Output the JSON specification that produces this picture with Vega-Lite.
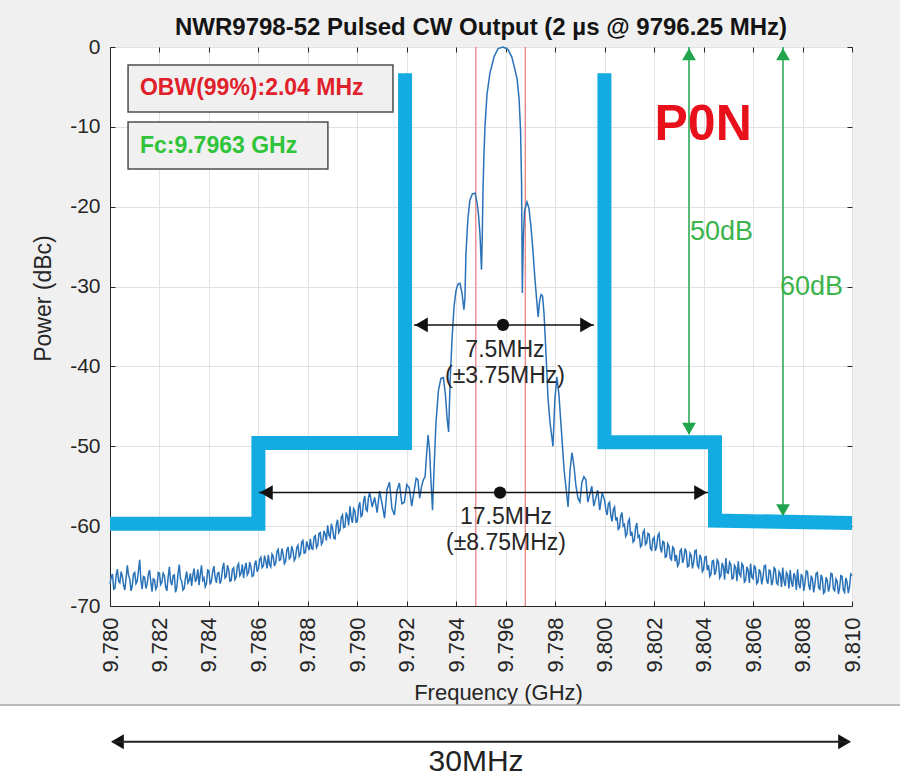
{
  "$schema": "https://vega.github.io/schema/vega-lite/v6.json",
  "autosize": {"type": "none"},
  "width": 742,
  "height": 559,
  "padding": {"left": 110, "top": 47, "right": 48, "bottom": 176},
  "background": "#f0f0f0",
  "title": {"text": "NWR9798-52 Pulsed CW Output (2 µs @ 9796.25 MHz)", "fontSize": 24, "fontWeight": "bold", "color": "#141414", "anchor": "middle", "frame": "group", "offset": -4, "font": "Liberation Sans"},
  "config": {
    "view": {"fill": "white", "stroke": "#262626", "strokeWidth": 1},
    "font": "Liberation Sans",
    "axis": {"domainColor": "#262626", "tickColor": "#262626", "gridColor": "#e2e2e2", "labelColor": "#262626", "titleColor": "#262626", "labelFontSize": 21, "titleFontSize": 22, "titleFontWeight": "normal", "labelFont": "Liberation Sans", "titleFont": "Liberation Sans"}
  },
  "resolve": {"axis": {"x": "independent", "y": "independent"}},
  "datasets": {
    "spec": [
      {"f":9.78000,"p":-67.2},{"f":9.78005,"p":-66.4},{"f":9.78010,"p":-66.0},{"f":9.78015,"p":-67.9},{"f":9.78020,"p":-67.8},{"f":9.78025,"p":-66.1},{"f":9.78030,"p":-65.4},{"f":9.78035,"p":-66.9},{"f":9.78040,"p":-67.1},{"f":9.78045,"p":-65.7},
      {"f":9.78050,"p":-66.3},{"f":9.78055,"p":-67.4},{"f":9.78060,"p":-68.0},{"f":9.78065,"p":-66.5},{"f":9.78070,"p":-64.9},{"f":9.78075,"p":-66.2},{"f":9.78080,"p":-66.6},{"f":9.78085,"p":-68.1},{"f":9.78090,"p":-67.5},{"f":9.78095,"p":-66.0},
      {"f":9.78100,"p":-65.8},{"f":9.78105,"p":-67.2},{"f":9.78110,"p":-66.9},{"f":9.78115,"p":-65.6},{"f":9.78120,"p":-64.2},{"f":9.78125,"p":-66.8},{"f":9.78130,"p":-67.9},{"f":9.78135,"p":-66.3},{"f":9.78140,"p":-66.4},{"f":9.78145,"p":-67.8},
      {"f":9.78150,"p":-67.3},{"f":9.78155,"p":-66.0},{"f":9.78160,"p":-65.5},{"f":9.78165,"p":-67.0},{"f":9.78170,"p":-68.2},{"f":9.78175,"p":-66.6},{"f":9.78180,"p":-66.7},{"f":9.78185,"p":-67.9},{"f":9.78190,"p":-67.6},{"f":9.78195,"p":-65.8},
      {"f":9.78200,"p":-65.9},{"f":9.78205,"p":-67.3},{"f":9.78210,"p":-67.0},{"f":9.78215,"p":-65.9},{"f":9.78220,"p":-66.2},{"f":9.78225,"p":-67.6},{"f":9.78230,"p":-68.1},{"f":9.78235,"p":-66.4},{"f":9.78240,"p":-65.1},{"f":9.78245,"p":-66.9},
      {"f":9.78250,"p":-67.4},{"f":9.78255,"p":-66.2},{"f":9.78260,"p":-66.1},{"f":9.78265,"p":-68.3},{"f":9.78270,"p":-67.7},{"f":9.78275,"p":-66.0},{"f":9.78280,"p":-64.8},{"f":9.78285,"p":-66.6},{"f":9.78290,"p":-66.9},{"f":9.78295,"p":-68.0},
      {"f":9.78300,"p":-67.8},{"f":9.78305,"p":-66.5},{"f":9.78310,"p":-65.7},{"f":9.78315,"p":-67.1},{"f":9.78320,"p":-66.8},{"f":9.78325,"p":-65.9},{"f":9.78330,"p":-67.5},{"f":9.78335,"p":-66.1},{"f":9.78340,"p":-65.3},{"f":9.78345,"p":-67.0},
      {"f":9.78350,"p":-66.6},{"f":9.78355,"p":-65.4},{"f":9.78360,"p":-67.4},{"f":9.78365,"p":-66.0},{"f":9.78370,"p":-64.9},{"f":9.78375,"p":-66.8},{"f":9.78380,"p":-66.5},{"f":9.78385,"p":-67.6},{"f":9.78390,"p":-67.2},{"f":9.78395,"p":-65.5},
      {"f":9.78400,"p":-65.6},{"f":9.78405,"p":-67.3},{"f":9.78410,"p":-66.9},{"f":9.78415,"p":-65.7},{"f":9.78420,"p":-65.0},{"f":9.78425,"p":-66.4},{"f":9.78430,"p":-67.1},{"f":9.78435,"p":-65.9},{"f":9.78440,"p":-65.8},{"f":9.78445,"p":-67.2},
      {"f":9.78450,"p":-66.7},{"f":9.78455,"p":-65.3},{"f":9.78460,"p":-64.6},{"f":9.78465,"p":-66.5},{"f":9.78470,"p":-66.3},{"f":9.78475,"p":-64.9},{"f":9.78480,"p":-65.5},{"f":9.78485,"p":-66.9},{"f":9.78490,"p":-66.8},{"f":9.78495,"p":-65.4},
      {"f":9.78500,"p":-65.2},{"f":9.78505,"p":-66.7},{"f":9.78510,"p":-66.4},{"f":9.78515,"p":-65.0},{"f":9.78520,"p":-64.7},{"f":9.78525,"p":-66.2},{"f":9.78530,"p":-65.9},{"f":9.78535,"p":-64.8},{"f":9.78540,"p":-66.5},{"f":9.78545,"p":-65.3},
      {"f":9.78550,"p":-64.6},{"f":9.78555,"p":-66.1},{"f":9.78560,"p":-65.8},{"f":9.78565,"p":-64.5},{"f":9.78570,"p":-65.1},{"f":9.78575,"p":-66.3},{"f":9.78580,"p":-66.2},{"f":9.78585,"p":-64.8},{"f":9.78590,"p":-64.3},{"f":9.78595,"p":-65.7},
      {"f":9.78600,"p":-65.3},{"f":9.78605,"p":-64.2},{"f":9.78610,"p":-63.9},{"f":9.78615,"p":-65.2},{"f":9.78620,"p":-65.0},{"f":9.78625,"p":-63.7},{"f":9.78630,"p":-64.4},{"f":9.78635,"p":-65.3},{"f":9.78640,"p":-63.6},{"f":9.78645,"p":-64.8},
      {"f":9.78650,"p":-65.1},{"f":9.78655,"p":-63.5},{"f":9.78660,"p":-63.8},{"f":9.78665,"p":-65.0},{"f":9.78670,"p":-64.6},{"f":9.78675,"p":-63.2},{"f":9.78680,"p":-62.9},{"f":9.78685,"p":-64.3},{"f":9.78690,"p":-64.2},{"f":9.78695,"p":-62.8},
      {"f":9.78700,"p":-63.5},{"f":9.78705,"p":-64.7},{"f":9.78710,"p":-64.4},{"f":9.78715,"p":-63.0},{"f":9.78720,"p":-62.6},{"f":9.78725,"p":-64.1},{"f":9.78730,"p":-63.9},{"f":9.78735,"p":-62.5},{"f":9.78740,"p":-63.1},{"f":9.78745,"p":-64.3},
      {"f":9.78750,"p":-64.0},{"f":9.78755,"p":-62.7},{"f":9.78760,"p":-62.4},{"f":9.78765,"p":-63.8},{"f":9.78770,"p":-63.5},{"f":9.78775,"p":-62.0},{"f":9.78780,"p":-61.8},{"f":9.78785,"p":-63.4},{"f":9.78790,"p":-63.3},{"f":9.78795,"p":-61.9},
      {"f":9.78800,"p":-62.5},{"f":9.78805,"p":-63.0},{"f":9.78810,"p":-61.6},{"f":9.78815,"p":-62.8},{"f":9.78820,"p":-62.9},{"f":9.78825,"p":-61.4},{"f":9.78830,"p":-61.2},{"f":9.78835,"p":-62.7},{"f":9.78840,"p":-62.4},{"f":9.78845,"p":-60.9},
      {"f":9.78850,"p":-60.8},{"f":9.78855,"p":-62.3},{"f":9.78860,"p":-62.0},{"f":9.78865,"p":-60.6},{"f":9.78870,"p":-61.0},{"f":9.78875,"p":-61.8},{"f":9.78880,"p":-59.9},{"f":9.78885,"p":-61.1},{"f":9.78890,"p":-61.4},{"f":9.78895,"p":-59.7},
      {"f":9.78900,"p":-60.3},{"f":9.78905,"p":-61.5},{"f":9.78910,"p":-61.6},{"f":9.78915,"p":-59.8},{"f":9.78920,"p":-59.2},{"f":9.78925,"p":-60.8},{"f":9.78930,"p":-60.5},{"f":9.78935,"p":-58.9},{"f":9.78940,"p":-58.6},{"f":9.78945,"p":-60.2},
      {"f":9.78950,"p":-60.1},{"f":9.78955,"p":-58.3},{"f":9.78960,"p":-58.8},{"f":9.78965,"p":-59.9},{"f":9.78970,"p":-57.5},{"f":9.78975,"p":-58.9},{"f":9.78980,"p":-59.6},{"f":9.78985,"p":-57.8},{"f":9.78990,"p":-58.1},{"f":9.78995,"p":-59.5},
      {"f":9.79000,"p":-59.4},{"f":9.79005,"p":-57.6},{"f":9.79010,"p":-57.0},{"f":9.79015,"p":-58.8},{"f":9.79020,"p":-58.6},{"f":9.79025,"p":-56.9},{"f":9.79030,"p":-56.2},{"f":9.79035,"p":-57.9},{"f":9.79040,"p":-58.1},{"f":9.79045,"p":-56.4},
      {"f":9.79050,"p":-55.8},{"f":9.7906,"p":-57.6},{"f":9.7907,"p":-56.4},{"f":9.7908,"p":-58.3},{"f":9.7909,"p":-55.6},
      {"f":9.7910,"p":-57.2},{"f":9.7911,"p":-59.0},{"f":9.7912,"p":-55.4},{"f":9.7913,"p":-54.5},{"f":9.7914,"p":-57.8},{"f":9.7915,"p":-58.6},{"f":9.7916,"p":-55.6},{"f":9.7917,"p":-54.6},{"f":9.7918,"p":-57.2},{"f":9.7919,"p":-57.0},
      {"f":9.7920,"p":-54.8},{"f":9.7921,"p":-55.2},{"f":9.7922,"p":-57.5},
      {"f":9.79230,"p":-55.5},{"f":9.79238,"p":-54.0},{"f":9.79245,"p":-54.2},{"f":9.79252,"p":-56.5},{"f":9.79260,"p":-55.0},{"f":9.79267,"p":-54.2},{"f":9.79274,"p":-53.8},{"f":9.79280,"p":-51.0},{"f":9.79286,"p":-48.6},{"f":9.79292,"p":-50.5},
      {"f":9.79298,"p":-54.5},{"f":9.79304,"p":-58.0},{"f":9.79310,"p":-53.0},{"f":9.79318,"p":-47.0},{"f":9.79328,"p":-43.0},{"f":9.79338,"p":-41.5},{"f":9.79348,"p":-41.4},{"f":9.79356,"p":-43.5},{"f":9.79363,"p":-46.5},{"f":9.79369,"p":-48.2},
      {"f":9.79375,"p":-42.0},{"f":9.79383,"p":-36.5},{"f":9.79391,"p":-32.5},{"f":9.79399,"p":-30.5},{"f":9.79407,"p":-29.7},{"f":9.79415,"p":-29.6},{"f":9.79423,"p":-30.8},{"f":9.79431,"p":-32.9},{"f":9.79435,"p":-31.5},{"f":9.79439,"p":-26.0},
      {"f":9.79447,"p":-21.5},{"f":9.79455,"p":-19.2},{"f":9.79465,"p":-18.4},{"f":9.79476,"p":-18.3},{"f":9.79484,"p":-19.5},{"f":9.79490,"p":-21.0},{"f":9.79496,"p":-23.5},{"f":9.79502,"p":-27.9},{"f":9.79505,"p":-24.0},{"f":9.79508,"p":-18.0},
      {"f":9.79512,"p":-13.5},{"f":9.79516,"p":-10.0},{"f":9.79524,"p":-6.0},{"f":9.79536,"p":-3.3},{"f":9.79553,"p":-1.2},{"f":9.79569,"p":-0.2},{"f":9.79589,"p":0},{"f":9.79609,"p":-0.3},{"f":9.79625,"p":-1.3},{"f":9.79637,"p":-2.8},
      {"f":9.79646,"p":-4.0},{"f":9.79654,"p":-6.5},{"f":9.79660,"p":-10.5},{"f":9.79664,"p":-17.0},{"f":9.79667,"p":-30.8},{"f":9.79671,"p":-24.0},{"f":9.79676,"p":-20.5},{"f":9.79686,"p":-19.4},{"f":9.79694,"p":-20.2},{"f":9.79702,"p":-22.5},
      {"f":9.79710,"p":-25.5},{"f":9.79718,"p":-29.0},{"f":9.79726,"p":-32.0},{"f":9.79731,"p":-33.8},{"f":9.79737,"p":-31.8},{"f":9.79743,"p":-31.0},{"f":9.79749,"p":-31.2},{"f":9.79755,"p":-33.5},{"f":9.79763,"p":-38.5},{"f":9.79771,"p":-44.0},
      {"f":9.79779,"p":-47.0},{"f":9.79791,"p":-50.0},{"f":9.79799,"p":-44.0},{"f":9.79807,"p":-41.3},{"f":9.79815,"p":-43.5},{"f":9.79825,"p":-48.0},{"f":9.79836,"p":-53.0},{"f":9.79852,"p":-57.6},{"f":9.79860,"p":-53.0},{"f":9.79868,"p":-50.8},
      {"f":9.79876,"p":-52.5},{"f":9.79884,"p":-55.0},{"f":9.79892,"p":-56.5},{"f":9.79900,"p":-57.0},{"f":9.79908,"p":-54.5},{"f":9.79916,"p":-53.8},{"f":9.79924,"p":-54.2},{"f":9.79932,"p":-57.0},{"f":9.79940,"p":-56.0},{"f":9.79948,"p":-55.0},
      {"f":9.79956,"p":-57.5},{"f":9.79964,"p":-56.5},{"f":9.79972,"p":-55.5},{"f":9.79980,"p":-58.0},{"f":9.79990,"p":-55.8},
      {"f":9.80000,"p":-56.8},{"f":9.80005,"p":-58.0},{"f":9.80010,"p":-58.6},{"f":9.80015,"p":-57.2},{"f":9.80020,"p":-57.0},{"f":9.80025,"p":-58.7},{"f":9.80030,"p":-59.4},{"f":9.80035,"p":-57.9},{"f":9.80040,"p":-57.6},{"f":9.80045,"p":-59.3},
      {"f":9.80050,"p":-58.9},{"f":9.80055,"p":-60.4},{"f":9.80060,"p":-60.2},{"f":9.80065,"p":-58.7},{"f":9.80070,"p":-58.3},{"f":9.80075,"p":-60.0},{"f":9.80080,"p":-59.8},{"f":9.80085,"p":-61.3},{"f":9.80090,"p":-61.0},{"f":9.80095,"p":-59.4},
      {"f":9.80100,"p":-59.1},{"f":9.80105,"p":-61.2},{"f":9.80110,"p":-60.7},{"f":9.80115,"p":-62.0},{"f":9.80120,"p":-61.8},{"f":9.80125,"p":-60.2},{"f":9.80130,"p":-59.6},{"f":9.80135,"p":-61.4},{"f":9.80140,"p":-61.2},{"f":9.80145,"p":-62.6},
      {"f":9.80150,"p":-62.4},{"f":9.80155,"p":-60.8},{"f":9.80160,"p":-60.5},{"f":9.80165,"p":-62.3},{"f":9.80170,"p":-62.1},{"f":9.80175,"p":-60.9},{"f":9.80180,"p":-61.0},{"f":9.80185,"p":-62.8},{"f":9.80190,"p":-63.0},{"f":9.80195,"p":-61.6},
      {"f":9.80200,"p":-61.4},{"f":9.80205,"p":-63.1},{"f":9.80210,"p":-62.6},{"f":9.80215,"p":-61.2},{"f":9.80220,"p":-60.9},{"f":9.80225,"p":-62.7},{"f":9.80230,"p":-63.3},{"f":9.80235,"p":-61.9},{"f":9.80240,"p":-62.0},{"f":9.80245,"p":-63.9},
      {"f":9.80250,"p":-63.8},{"f":9.80255,"p":-62.2},{"f":9.80260,"p":-62.5},{"f":9.80265,"p":-64.0},{"f":9.80270,"p":-64.2},{"f":9.80275,"p":-62.6},{"f":9.80280,"p":-62.8},{"f":9.80285,"p":-64.4},{"f":9.80290,"p":-63.6},{"f":9.80295,"p":-65.0},
      {"f":9.80300,"p":-64.7},{"f":9.80305,"p":-63.1},{"f":9.80310,"p":-62.9},{"f":9.80315,"p":-64.6},{"f":9.80320,"p":-64.1},{"f":9.80325,"p":-62.8},{"f":9.80330,"p":-63.2},{"f":9.80335,"p":-65.1},{"f":9.80340,"p":-65.0},{"f":9.80345,"p":-63.4},
      {"f":9.80350,"p":-63.7},{"f":9.80355,"p":-65.3},{"f":9.80360,"p":-64.5},{"f":9.80365,"p":-63.1},{"f":9.80370,"p":-63.0},{"f":9.80375,"p":-64.9},{"f":9.80380,"p":-65.2},{"f":9.80385,"p":-63.6},{"f":9.80390,"p":-64.0},{"f":9.80395,"p":-65.7},
      {"f":9.80400,"p":-65.4},{"f":9.80405,"p":-63.9},{"f":9.80410,"p":-63.8},{"f":9.80415,"p":-65.5},{"f":9.80420,"p":-64.9},{"f":9.80425,"p":-66.3},{"f":9.80430,"p":-66.0},{"f":9.80435,"p":-64.4},{"f":9.80440,"p":-64.3},{"f":9.80445,"p":-66.1},
      {"f":9.80450,"p":-65.6},{"f":9.80455,"p":-64.2},{"f":9.80460,"p":-64.5},{"f":9.80465,"p":-66.5},{"f":9.80470,"p":-66.2},{"f":9.80475,"p":-64.6},{"f":9.80480,"p":-65.1},{"f":9.80485,"p":-66.7},{"f":9.80490,"p":-64.0},{"f":9.80495,"p":-65.8},
      {"f":9.80500,"p":-65.9},{"f":9.80505,"p":-64.5},{"f":9.80510,"p":-64.8},{"f":9.80515,"p":-66.6},{"f":9.80520,"p":-66.5},{"f":9.80525,"p":-64.9},{"f":9.80530,"p":-65.2},{"f":9.80535,"p":-66.9},{"f":9.80540,"p":-64.4},{"f":9.80545,"p":-66.0},
      {"f":9.80550,"p":-66.3},{"f":9.80555,"p":-64.7},{"f":9.80560,"p":-65.0},{"f":9.80565,"p":-67.0},{"f":9.80570,"p":-66.8},{"f":9.80575,"p":-65.1},{"f":9.80580,"p":-65.5},{"f":9.80585,"p":-67.1},{"f":9.80590,"p":-64.7},{"f":9.80595,"p":-66.4},
      {"f":9.80600,"p":-66.6},{"f":9.80605,"p":-64.9},{"f":9.80610,"p":-65.3},{"f":9.80615,"p":-67.2},{"f":9.80620,"p":-67.0},{"f":9.80625,"p":-65.4},{"f":9.80630,"p":-65.8},{"f":9.80635,"p":-67.3},{"f":9.80640,"p":-66.4},{"f":9.80645,"p":-65.0},
      {"f":9.80650,"p":-64.9},{"f":9.80655,"p":-66.8},{"f":9.80660,"p":-67.2},{"f":9.80665,"p":-65.5},{"f":9.80670,"p":-65.6},{"f":9.80675,"p":-67.4},{"f":9.80680,"p":-66.9},{"f":9.80685,"p":-65.2},{"f":9.80690,"p":-65.4},{"f":9.80695,"p":-67.1},
      {"f":9.80700,"p":-67.3},{"f":9.80705,"p":-65.7},{"f":9.80710,"p":-66.0},{"f":9.80715,"p":-67.6},{"f":9.80720,"p":-65.2},{"f":9.80725,"p":-66.9},{"f":9.80730,"p":-67.5},{"f":9.80735,"p":-65.8},{"f":9.80740,"p":-66.1},{"f":9.80745,"p":-67.8},
      {"f":9.80750,"p":-65.5},{"f":9.80755,"p":-67.0},{"f":9.80760,"p":-67.6},{"f":9.80765,"p":-65.9},{"f":9.80770,"p":-66.3},{"f":9.80775,"p":-68.0},{"f":9.80780,"p":-65.4},{"f":9.80785,"p":-67.2},{"f":9.80790,"p":-67.8},{"f":9.80795,"p":-66.0},
      {"f":9.80800,"p":-66.4},{"f":9.80805,"p":-68.1},{"f":9.80810,"p":-67.1},{"f":9.80815,"p":-65.6},{"f":9.80820,"p":-65.7},{"f":9.80825,"p":-67.4},{"f":9.80830,"p":-68.0},{"f":9.80835,"p":-66.2},{"f":9.80840,"p":-66.6},{"f":9.80845,"p":-68.3},
      {"f":9.80850,"p":-67.3},{"f":9.80855,"p":-65.9},{"f":9.80860,"p":-65.8},{"f":9.80865,"p":-67.7},{"f":9.80870,"p":-67.9},{"f":9.80875,"p":-66.1},{"f":9.80880,"p":-66.5},{"f":9.80885,"p":-68.4},{"f":9.80890,"p":-68.2},{"f":9.80895,"p":-66.4},
      {"f":9.80900,"p":-66.8},{"f":9.80905,"p":-68.2},{"f":9.80910,"p":-67.5},{"f":9.80915,"p":-65.9},{"f":9.80920,"p":-66.0},{"f":9.80925,"p":-67.9},{"f":9.80930,"p":-68.1},{"f":9.80935,"p":-66.6},{"f":9.80940,"p":-66.9},{"f":9.80945,"p":-68.5},
      {"f":9.80950,"p":-67.7},{"f":9.80955,"p":-66.2},{"f":9.80960,"p":-66.3},{"f":9.80965,"p":-68.0},{"f":9.80970,"p":-68.3},{"f":9.80975,"p":-66.5},{"f":9.80980,"p":-67.0},{"f":9.80985,"p":-68.4},{"f":9.80990,"p":-67.6},{"f":9.80995,"p":-66.0},
      {"f":9.81000,"p":-66.2}
    ],
    "mask": [
      {"seg":"L","i":1,"f":9.7800,"p":-59.7},{"seg":"L","i":2,"f":9.7860,"p":-59.7},{"seg":"L","i":3,"f":9.7860,"p":-49.6},{"seg":"L","i":4,"f":9.79193,"p":-49.6},{"seg":"L","i":5,"f":9.79193,"p":-3.3},
      {"seg":"R","i":1,"f":9.79999,"p":-3.3},{"seg":"R","i":2,"f":9.79999,"p":-49.5},{"seg":"R","i":3,"f":9.80446,"p":-49.5},{"seg":"R","i":4,"f":9.80446,"p":-59.3},{"seg":"R","i":5,"f":9.8100,"p":-59.6}
    ]
  },
  "encoding": {
    "x": {"field": "f", "type": "quantitative", "scale": {"domain": [9.78, 9.81], "nice": false, "zero": false}, "axis": null},
    "y": {"field": "p", "type": "quantitative", "scale": {"domain": [-70, 0], "nice": false, "zero": false}, "axis": null}
  },
  "layer": [
    {
      "data": {"values": [{"f": 9.77555, "f2": 9.81194, "p": -82.4, "p2": -92.5}]},
      "mark": {"type": "rect", "fill": "white", "clip": false},
      "encoding": {"x": {"field": "f", "type": "quantitative", "scale": {"domain": [9.78, 9.81], "nice": false, "zero": false}, "axis": {"title": "Frequency (GHz)", "values": [9.780, 9.782, 9.784, 9.786, 9.788, 9.790, 9.792, 9.794, 9.796, 9.798, 9.800, 9.802, 9.804, 9.806, 9.808, 9.810], "format": ".3f", "labelAngle": -90, "labelFontSize": 22, "grid": true, "tickSize": -5, "labelPadding": 16, "titlePadding": 10, "titleX": 388}}, "x2": {"field": "f2"}, "y": {"field": "p", "type": "quantitative", "scale": {"domain": [-70, 0], "nice": false, "zero": false}, "axis": {"title": "Power (dBc)", "titleFontSize": 23, "titleY": 251, "values": [-70, -60, -50, -40, -30, -20, -10, 0], "labelExpr": "replace(datum.label, '−', '-')", "grid": true, "tickSize": -5, "labelPadding": 15, "titlePadding": 14}}, "y2": {"field": "p2"}}
    },
    {
      "data": {"values": [{"f": 9.78, "p": -70}]},
      "mark": {"type": "point", "opacity": 0},
      "encoding": {"x": {"field": "f", "type": "quantitative", "axis": {"orient": "top", "labels": false, "title": null, "grid": false, "domain": false, "tickSize": -5, "values": [9.780, 9.782, 9.784, 9.786, 9.788, 9.790, 9.792, 9.794, 9.796, 9.798, 9.800, 9.802, 9.804, 9.806, 9.808, 9.810]}}, "y": {"field": "p", "type": "quantitative", "axis": {"orient": "right", "labels": false, "title": null, "grid": false, "domain": false, "tickSize": -5, "values": [-70, -60, -50, -40, -30, -20, -10, 0]}}}
    },
    {
      "data": {"values": [{"f": 9.77555, "f2": 9.81194, "p": -82.4}]},
      "mark": {"type": "rule", "color": "#a6a6a6", "strokeWidth": 1.5, "clip": false},
      "encoding": {"x2": {"field": "f2"}}
    },
    {
      "data": {"values": [{"f": 9.79479}, {"f": 9.79679}]},
      "mark": {"type": "rule", "color": "#e9787a", "strokeWidth": 1.2},
      "encoding": {"y": null}
    },
    {
      "data": {"name": "spec"},
      "mark": {"type": "line", "color": "#2a72b8", "strokeWidth": 1.5},
      "encoding": {}
    },
    {
      "data": {"name": "mask"},
      "mark": {"type": "line", "color": "#14aae2", "strokeWidth": 14, "strokeCap": "butt", "strokeJoin": "miter"},
      "encoding": {"detail": {"field": "seg"}, "order": {"field": "i"}}
    },
    {
      "data": {"values": [{"f": 9.80341, "p": 0, "p2": -48.5}, {"f": 9.80721, "p": 0, "p2": -58.6}]},
      "mark": {"type": "rule", "color": "#21a44c", "strokeWidth": 1.5},
      "encoding": {"y2": {"field": "p2"}}
    },
    {
      "data": {"values": [{"f": 9.80341, "p": -0.9}, {"f": 9.80721, "p": -0.9}]},
      "mark": {"type": "point", "shape": "triangle-up", "filled": true, "color": "#21a44c", "size": 190, "opacity": 1}
    },
    {
      "data": {"values": [{"f": 9.80341, "p": -47.8}, {"f": 9.80721, "p": -58.0}]},
      "mark": {"type": "point", "shape": "triangle-down", "filled": true, "color": "#21a44c", "size": 190, "opacity": 1}
    },
    {
      "data": {"values": [{"f": 9.79229, "f2": 9.79957, "p": -34.8}, {"f": 9.78602, "f2": 9.80418, "p": -55.8}]},
      "mark": {"type": "rule", "color": "#111111", "strokeWidth": 1.5},
      "encoding": {"x2": {"field": "f2"}}
    },
    {
      "data": {"values": [{"f": 9.79259, "p": -34.8}, {"f": 9.78632, "p": -55.8}, {"f": 9.78030, "p": -87.0}]},
      "mark": {"type": "point", "shape": "triangle-left", "filled": true, "color": "#111111", "size": 220, "opacity": 1, "clip": false}
    },
    {
      "data": {"values": [{"f": 9.79927, "p": -34.8}, {"f": 9.80388, "p": -55.8}, {"f": 9.80970, "p": -87.0}]},
      "mark": {"type": "point", "shape": "triangle-right", "filled": true, "color": "#111111", "size": 220, "opacity": 1, "clip": false}
    },
    {
      "data": {"values": [{"f": 9.79589, "p": -34.8}, {"f": 9.79577, "p": -55.8}]},
      "mark": {"type": "circle", "color": "#111111", "size": 150, "opacity": 1}
    },
    {
      "data": {"values": [{"f": 9.7801, "f2": 9.8099, "p": -87.0}]},
      "mark": {"type": "rule", "color": "#222222", "strokeWidth": 2, "clip": false},
      "encoding": {"x2": {"field": "f2"}}
    },
    {
      "data": {"values": [{"f": 9.78073, "f2": 9.79144, "p": -2.25, "p2": -8.14}, {"f": 9.78073, "f2": 9.78881, "p": -9.39, "p2": -15.28}]},
      "mark": {"type": "rect", "fill": "#f0f0f0", "stroke": "#4d4d4d", "strokeWidth": 1.5},
      "encoding": {"x2": {"field": "f2"}, "y2": {"field": "p2"}}
    },
    {
      "data": {"values": [{"f": 9.78121, "p": -5.13, "t": "OBW(99%):2.04 MHz"}]},
      "mark": {"type": "text", "align": "left", "baseline": "middle", "fontSize": 23, "fontWeight": "bold", "color": "#e0202a"},
      "encoding": {"text": {"field": "t"}}
    },
    {
      "data": {"values": [{"f": 9.78121, "p": -12.4, "t": "Fc:9.7963 GHz"}]},
      "mark": {"type": "text", "align": "left", "baseline": "middle", "fontSize": 23, "fontWeight": "bold", "color": "#2fc43a"},
      "encoding": {"text": {"field": "t"}}
    },
    {
      "data": {"values": [{"f": 9.80398, "p": -9.8, "t": "P0N"}]},
      "mark": {"type": "text", "align": "center", "baseline": "middle", "fontSize": 50, "fontWeight": "bold", "color": "#e8101a"},
      "encoding": {"text": {"field": "t"}}
    },
    {
      "data": {"values": [{"f": 9.80345, "p": -23.2, "t": "50dB"}, {"f": 9.80709, "p": -30.05, "t": "60dB"}]},
      "mark": {"type": "text", "align": "left", "baseline": "middle", "fontSize": 27, "color": "#3cb44b"},
      "encoding": {"text": {"field": "t"}}
    },
    {
      "data": {"values": [{"f": 9.79597, "p": -37.9, "t": "7.5MHz"}, {"f": 9.79597, "p": -41.2, "t": "(±3.75MHz)"}, {"f": 9.79601, "p": -58.9, "t": "17.5MHz"}, {"f": 9.79601, "p": -62.1, "t": "(±8.75MHz)"}]},
      "mark": {"type": "text", "align": "center", "baseline": "middle", "fontSize": 23, "color": "#262626"},
      "encoding": {"text": {"field": "t"}}
    },
    {
      "data": {"values": [{"f": 9.7948, "p": -89.5, "t": "30MHz"}]},
      "mark": {"type": "text", "align": "center", "baseline": "middle", "fontSize": 30, "color": "#222222", "clip": false},
      "encoding": {"text": {"field": "t"}}
    }
  ]
}
